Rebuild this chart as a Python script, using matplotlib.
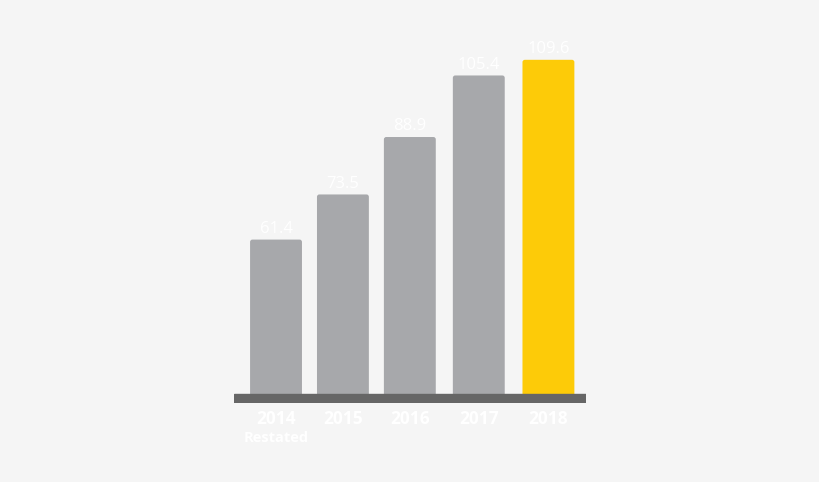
import numpy as np
import matplotlib.pyplot as plt
from matplotlib.patches import FancyBboxPatch

# datos
years = ['2014', '2015', '2016', '2017', '2018']
values = [61.4, 73.5, 88.9, 105.4, 109.6]
sublabels = ['Restated', '', '', '', '']
bar_colors = ['#a7a8ab', '#a7a8ab', '#a7a8ab', '#a7a8ab', '#fdcb08']
x_pos = [0, 0.98, 1.96, 2.97, 3.99]

plt.rcParams['font.family'] = ['Open Sans', 'DejaVu Sans']

fig = plt.figure(figsize=(8.2, 4.82), dpi=100)
fig.patch.set_facecolor('#f5f5f5')
ax = fig.add_axes([0.2854, 0.1639, 0.4292, 0.7925])
ax.set_facecolor('#f5f5f5')

bars = ax.bar(x_pos, values, width=0.76, color=bar_colors, zorder=2)
ax.set_xlim(-0.615, 4.54)
ax.set_ylim(17.59, 120.0)

# esquinas redondeadas (las barras originales se reemplazan)
for rect in bars:
    x0, y0 = rect.get_xy()
    w, h = rect.get_width(), rect.get_height()
    rounded = FancyBboxPatch((x0, y0), w, h, boxstyle='round,pad=0,rounding_size=0.035',
                             mutation_aspect=18.3, facecolor=rect.get_facecolor(),
                             edgecolor='none', zorder=2)
    ax.add_patch(rounded)
    rect.set_visible(False)

# línea base gruesa
ax.axhspan(17.59, 20, color='#666666', zorder=3)

for xi, v in zip(x_pos, values):
    ax.annotate(f'{v:.1f}', (xi, v), xytext=(0, 2), textcoords='offset points',
                ha='center', va='bottom', color='white', fontsize=12)

for xi, yr, sub in zip(x_pos, years, sublabels):
    ax.annotate(yr, (xi, 17.59), xytext=(0, -5), textcoords='offset points',
                ha='center', va='top', color='white', fontsize=12.5, fontweight='bold',
                annotation_clip=False)
    if sub:
        ax.annotate(sub, (xi, 17.59), xytext=(0, -20), textcoords='offset points',
                    ha='center', va='top', color='white', fontsize=10.5, fontweight='bold',
                    annotation_clip=False)

ax.axis('off')
fig.savefig('out.png', dpi=100, facecolor=fig.get_facecolor())
